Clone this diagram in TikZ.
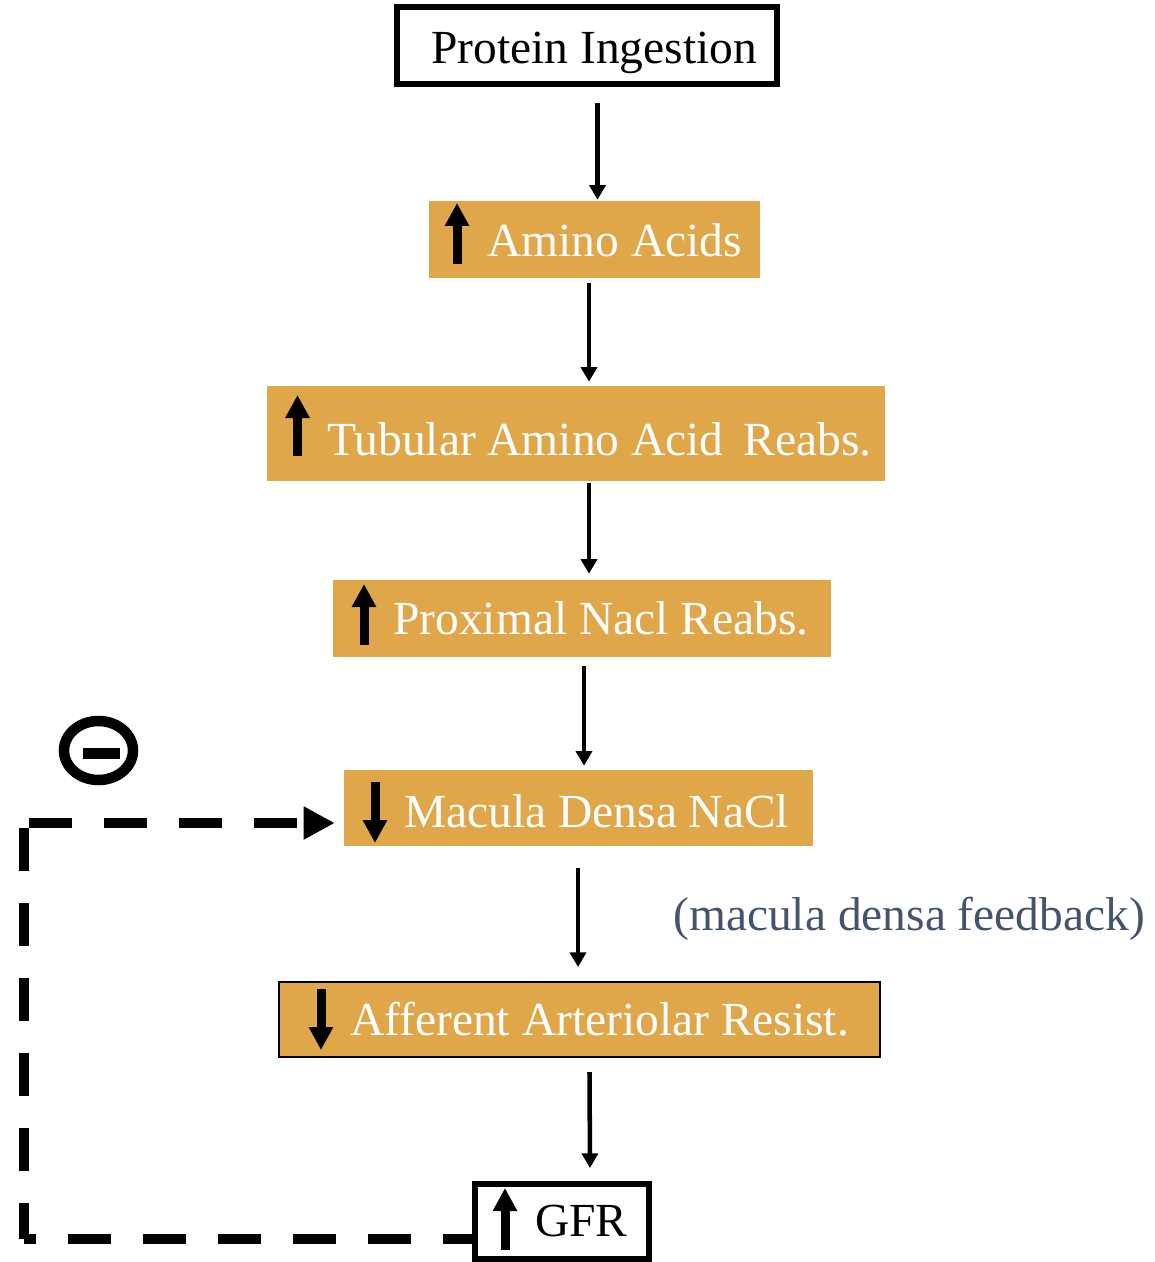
\documentclass[tikz,border=0pt]{standalone}
\usepackage{fontspec}
\setmainfont{Liberation Serif}
\usetikzlibrary{arrows.meta,calc,shapes.geometric}
\definecolor{gold}{HTML}{DFA74A}
\definecolor{slate}{HTML}{44546A}
\begin{document}
\begin{tikzpicture}[x=0.75pt,y=-0.75pt,
  box/.style={rectangle,inner sep=0pt,fill=gold,draw=none},
  wbox/.style={rectangle,inner sep=0pt,fill=white,draw=black,line width=4.5pt},
  lbl/.style={anchor=base west,inner sep=0pt,font=\fontsize{35.6}{40}\selectfont},
  wlbl/.style={lbl,text=white},
  conn/.style={draw=black,line width=3.4pt,-{Triangle[width=12pt,length=11pt]}},
  bigarr/.style={draw=black,line width=6.75pt,-{Triangle[width=17.25pt,length=17.25pt]}},
  fb/.style={draw=black,line width=7.5pt,dash pattern=on 32.25pt off 24pt}
]
\useasboundingbox (0,0) rectangle (1155,1262);
\fill[white] (0,0) rectangle (1155,1262);

% boxes
\node[wbox,minimum width=285pt,minimum height=57.75pt] (pi) at (587,45.5) {};
\node[box,minimum width=248.25pt,minimum height=57.75pt] (aa) at (594.5,239.5) {};
\node[box,minimum width=463.5pt,minimum height=71.25pt] (tb) at (576,433.5) {};
\node[box,minimum width=373.5pt,minimum height=57.75pt] (px) at (582,618.5) {};
\node[box,minimum width=351.75pt,minimum height=57pt] (md) at (578.5,808) {};
\node[box,draw=black,line width=1.5pt,minimum width=450.75pt,minimum height=56.25pt] (af) at (579.5,1019.5) {};
\node[wbox,minimum width=130.5pt,minimum height=56.25pt] (gfr) at (562,1221.5) {};

% texts
\node[lbl] (pit) at (431,64) {Protein Ingestion};
\node[wlbl] (aat) at (487,257) {Amino Acids};
\node[wlbl] (tbt) at (327,455) {Tubular Amino Acid\, Reabs.};
\node[wlbl] (pxt) at (393,634) {Proximal Nacl Reabs.};
\node[wlbl] (mdt) at (404,827) {Macula Densa NaCl};
\node[wlbl] (aft) at (350,1035) {Afferent Arteriolar Resist.};
\node[lbl] (gfrt) at (535,1236) {GFR};
\node[lbl,text=slate] (fbt) at (673,930) {(macula densa feedback)};

% inner arrows (up / down glyphs)
\draw[bigarr] (457,264) -- (457,203);
\draw[bigarr] (297.5,456) -- (297.5,395);
\draw[bigarr] (364,645) -- (364,584);
\draw[bigarr] (375,782) -- (375,843);
\draw[bigarr] (321,989) -- (321,1050);
\draw[bigarr] (505,1250) -- (505,1188);

% connectors
\draw[conn] ($(pi.south)+(10.5,16)$) -- ($(aa.north)+(3,-1)$);
\draw[conn] ($(aa.south)+(-5.5,5)$) -- ($(tb.north)+(13,-4)$);
\draw[conn] ($(tb.south)+(13,2)$) -- ($(px.north)+(7,-6)$);
\draw[conn] ($(px.south)+(2,9)$) -- ($(md.north)+(5.5,-4)$);
\draw[conn] ($(md.south)+(-0.5,22)$) -- ($(af.north)+(-1.5,-14)$);
\draw[conn] ($(af.south)+(10,14)$) -- ($(gfr.north)+(28,-13)$);

% feedback loop
\coordinate (fbs) at ($(gfr.west)+(0,17)$);
\coordinate (cb) at (23.5,1238.5);
\coordinate (ct) at (23.5,828);
\coordinate (ch) at (29,823);
\draw[fb,dash phase=10.5pt] (fbs) -- (cb);
\draw[fb] (ct) -- (cb);
\draw[fb,-{Triangle[width=23.25pt,length=23.25pt]}] (ch) -- ($(md.west)+(-9,15)$);

% inhibition symbol
\node[ellipse,draw=black,line width=7.9pt,inner sep=0pt,minimum width=51.75pt,minimum height=44.25pt] (minus) at (98.5,750.5) {};
\fill[black] (83,748) rectangle (120,759);
\end{tikzpicture}
\end{document}
